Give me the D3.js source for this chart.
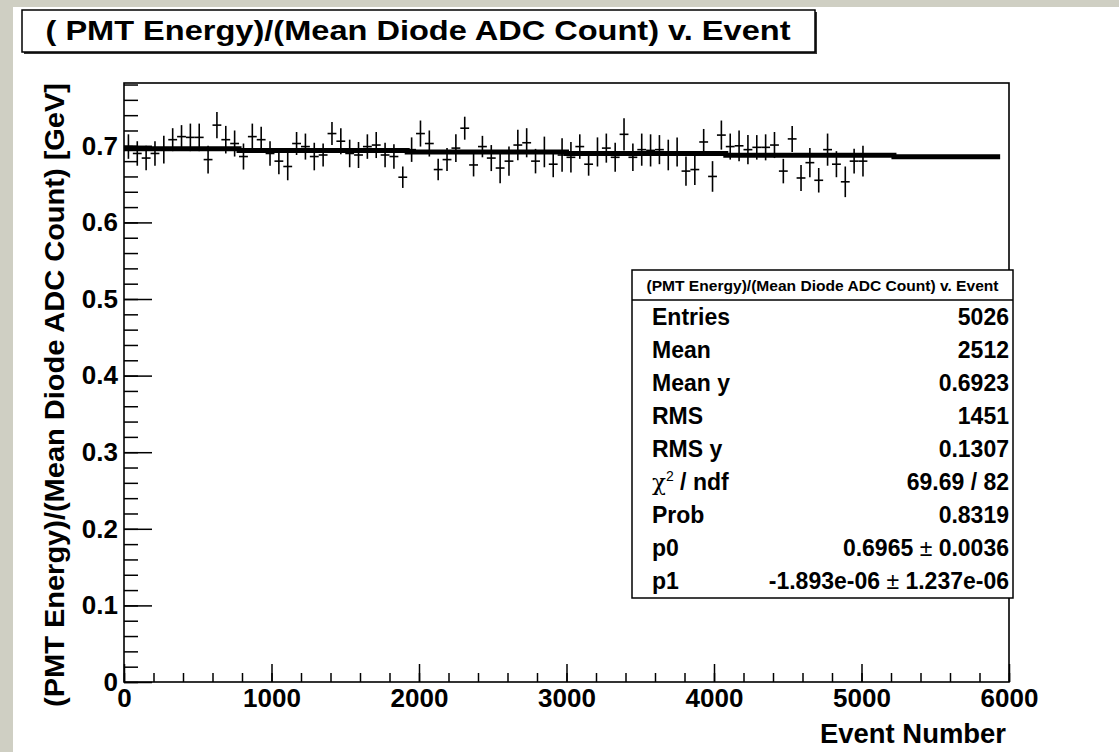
<!DOCTYPE html>
<html>
<head>
<meta charset="utf-8">
<script src="https://cdn.jsdelivr.net/npm/d3@7"></script>
<style>
    html, body { margin: 0; padding: 0; background: #cfcfc3; }
    svg { display: block; }
    text { font-family: "Liberation Sans", Arial, Helvetica, sans-serif; font-weight: bold; fill: #000; }
</style>
</head>
<body>
<svg id="chart" width="1119" height="752"></svg>
<script>
// profile bins, 60 events wide
const binWidth = 60;
const meanValues = [
    0.699, 0.690, 0.684, 0.690, 0.695, 0.708, 0.712, 0.711, 0.711, 0.682,
    0.727, 0.708, 0.703, 0.686, 0.712, 0.708, 0.690, 0.680, 0.673, 0.703,
    0.699, 0.686, 0.688, 0.716, 0.706, 0.690, 0.688, 0.699, 0.701, 0.688,
    0.686, 0.659, 0.695, 0.716, 0.703, 0.669, 0.682, 0.697, 0.723, 0.675,
    0.699, 0.684, 0.671, 0.680, 0.701, 0.704, 0.680, 0.692, 0.676, 0.688,
    0.685, 0.699, 0.676, 0.692, 0.697, 0.685, 0.715, 0.685, 0.695, 0.694,
    0.695, 0.688, 0.692, 0.667, 0.669, 0.705, 0.660, 0.714, 0.699, 0.700,
    0.695, 0.698, 0.698, 0.701, 0.667, 0.709, 0.658, 0.678, 0.655, 0.695,
    0.676, 0.653, 0.680, 0.680
];
const errValues = [
    0.016, 0.016, 0.016, 0.016, 0.018, 0.015, 0.015, 0.018, 0.018, 0.018,
    0.017, 0.018, 0.017, 0.017, 0.017, 0.017, 0.016, 0.017, 0.018, 0.015,
    0.017, 0.018, 0.015, 0.015, 0.017, 0.018, 0.017, 0.016, 0.017, 0.016,
    0.016, 0.014, 0.016, 0.017, 0.017, 0.014, 0.015, 0.018, 0.015, 0.015,
    0.014, 0.017, 0.020, 0.019, 0.020, 0.019, 0.016, 0.020, 0.017, 0.022,
    0.020, 0.016, 0.015, 0.019, 0.019, 0.019, 0.021, 0.018, 0.021, 0.021,
    0.019, 0.020, 0.019, 0.019, 0.020, 0.017, 0.020, 0.019, 0.017, 0.020,
    0.019, 0.016, 0.017, 0.017, 0.016, 0.017, 0.017, 0.019, 0.016, 0.021,
    0.017, 0.020, 0.016, 0.020
];
const binLow = d3.range(0, meanValues.length * binWidth, binWidth);

// linear fit from the stats box
const fitP0 = 0.6965;
const fitP1 = -1.893e-06;

const xMajor = [0, 1000, 2000, 3000, 4000, 5000, 6000];
const yMajor = [0, 0.1, 0.2, 0.3, 0.4, 0.5, 0.6, 0.7];

const titleText = "( PMT Energy)/(Mean Diode ADC Count) v. Event";
const statsTitle = "(PMT Energy)/(Mean Diode ADC Count) v. Event";
const statLabels = ["Entries", "Mean", "Mean y", "RMS", "RMS y", "CHI", "Prob", "p0", "p1"];
const statValues = ["5026", "2512", "0.6923", "1451", "0.1307", "69.69 / 82", "0.8319",
    "0.6965 ± 0.0036", "-1.893e-06 ± 1.237e-06"];

const svg = d3.select("#chart");

// white canvas inside the grey border
svg.append("rect")
    .attr("x", 13).attr("y", 7)
    .attr("width", 1119 - 13).attr("height", 752 - 7)
    .attr("fill", "#fff");

const x = d3.scaleLinear().domain([0, 6000]).range([124, 1009]);
const y = d3.scaleLinear().domain([0, 0.782]).range([682, 83]);

// minor ticks first, then major with labels
svg.append("g")
    .attr("transform", "translate(0,682)")
    .call(d3.axisBottom(x).tickValues(d3.range(0, 6001, 200)).tickSize(-9).tickFormat(""))
    .call(g => g.select(".domain").remove());

svg.append("g")
    .attr("transform", "translate(124,0)")
    .call(d3.axisLeft(y).tickValues(d3.range(0, 0.781, 0.02)).tickSize(-14).tickFormat(""))
    .call(g => g.select(".domain").remove());

const xAxis = svg.append("g")
    .attr("transform", "translate(0,682)")
    .call(d3.axisBottom(x).tickValues(xMajor).tickSize(-18).tickSizeOuter(0).tickPadding(7).tickFormat(d3.format("d")));

const yAxis = svg.append("g")
    .attr("transform", "translate(124,0)")
    .call(d3.axisLeft(y).tickValues(yMajor).tickSize(-28).tickSizeOuter(0).tickPadding(6)
        .tickFormat(d => d === 0 ? "0" : d3.format(".1f")(d)));

[xAxis, yAxis].forEach(g => {
    g.selectAll("text").attr("font-size", 26).attr("font-family", null);
    g.select(".domain").remove();
});
svg.selectAll("g.tick line").attr("stroke", "#000").attr("stroke-width", 1.5);

// frame
svg.append("rect")
    .attr("x", x(0)).attr("y", y(0.782))
    .attr("width", x(6000) - x(0)).attr("height", y(0) - y(0.782))
    .attr("fill", "none").attr("stroke", "#000").attr("stroke-width", 1.6);

// axis titles
svg.append("text")
    .attr("x", 1006).attr("y", 743)
    .attr("text-anchor", "end")
    .attr("font-size", 27)
    .attr("textLength", 186).attr("lengthAdjust", "spacingAndGlyphs")
    .text("Event Number");

svg.append("text")
    .attr("transform", "translate(64,83) rotate(-90)")
    .attr("text-anchor", "end")
    .attr("font-size", 27)
    .attr("textLength", 624).attr("lengthAdjust", "spacingAndGlyphs")
    .text("(PMT Energy)/(Mean Diode ADC Count)  [GeV]");

// fit line - ROOT drew it on a coarser pixel grid, so it comes out stepped
const gridPx = 1.6;
const fitX = d3.range(0, 5961, 60);
const fitLine = d3.line()
    .x(d => x(d))
    .y(d => Math.round(y(fitP0 + fitP1 * d) / gridPx) * gridPx)
    .curve(d3.curveStepAfter);
svg.append("path")
    .datum(fitX)
    .attr("d", fitLine)
    .attr("fill", "none")
    .attr("stroke", "#000")
    .attr("stroke-width", 5);

// profile points with error bars
const pts = svg.append("g")
    .selectAll("g")
    .data(meanValues.map((m, i) => ({ lo: binLow[i], mean: m, err: errValues[i] })))
    .join("g");

pts.append("line")
    .attr("x1", d => x(d.lo + binWidth / 2))
    .attr("x2", d => x(d.lo + binWidth / 2))
    .attr("y1", d => y(d.mean - d.err))
    .attr("y2", d => y(d.mean + d.err))
    .attr("stroke", "#000").attr("stroke-width", 1.6);

pts.append("line")
    .attr("x1", d => x(d.lo))
    .attr("x2", d => x(d.lo + binWidth))
    .attr("y1", d => y(d.mean))
    .attr("y2", d => y(d.mean))
    .attr("stroke", "#000").attr("stroke-width", 1.6);

// title box with its shadow
svg.append("rect")
    .attr("x", 24).attr("y", 12).attr("width", 793).attr("height", 42)
    .attr("fill", "#333");
svg.append("rect")
    .attr("x", 22).attr("y", 10).attr("width", 793).attr("height", 42)
    .attr("fill", "#fff").attr("stroke", "#000").attr("stroke-width", 1.5);
svg.append("text")
    .attr("x", 418).attr("y", 40)
    .attr("text-anchor", "middle")
    .attr("font-size", 28)
    .attr("textLength", 745).attr("lengthAdjust", "spacingAndGlyphs")
    .text(titleText);

// stats box
const sx0 = 632, sx1 = 1013, sy0 = 270, sy1 = 598, headH = 30;
svg.append("rect")
    .attr("x", sx0).attr("y", sy0).attr("width", sx1 - sx0).attr("height", sy1 - sy0)
    .attr("fill", "#fff").attr("stroke", "#000").attr("stroke-width", 1.5);
svg.append("line")
    .attr("x1", sx0).attr("x2", sx1).attr("y1", sy0 + headH).attr("y2", sy0 + headH)
    .attr("stroke", "#000").attr("stroke-width", 1.5);
svg.append("text")
    .attr("x", (sx0 + sx1) / 2).attr("y", sy0 + 21)
    .attr("text-anchor", "middle")
    .attr("font-size", 15)
    .attr("textLength", 352).attr("lengthAdjust", "spacingAndGlyphs")
    .text(statsTitle);

const rowH = (sy1 - sy0 - headH) / statLabels.length;
statLabels.forEach((lab, i) => {
    const base = sy0 + headH + rowH * (i + 0.5) + 8;
    const t = svg.append("text").attr("x", 652).attr("y", base).attr("font-size", 23);
    if (lab === "CHI") {
        t.append("tspan").attr("font-weight", "normal").attr("font-family", "DejaVu Serif, serif").text("χ");
        t.append("tspan").attr("font-size", 14).attr("dy", -9).attr("font-weight", "normal").text("2");
        t.append("tspan").attr("dy", 9).text(" / ndf");
    } else {
        t.text(lab);
    }

    const v = svg.append("text").attr("x", 1009).attr("y", base)
        .attr("text-anchor", "end").attr("font-size", 23);
    const parts = statValues[i].split("±");
    v.append("tspan").text(parts[0]);
    if (parts.length > 1) {
        v.append("tspan").attr("font-weight", "normal").text("±");
        v.append("tspan").text(parts[1]);
    }
});
</script>
</body>
</html>
